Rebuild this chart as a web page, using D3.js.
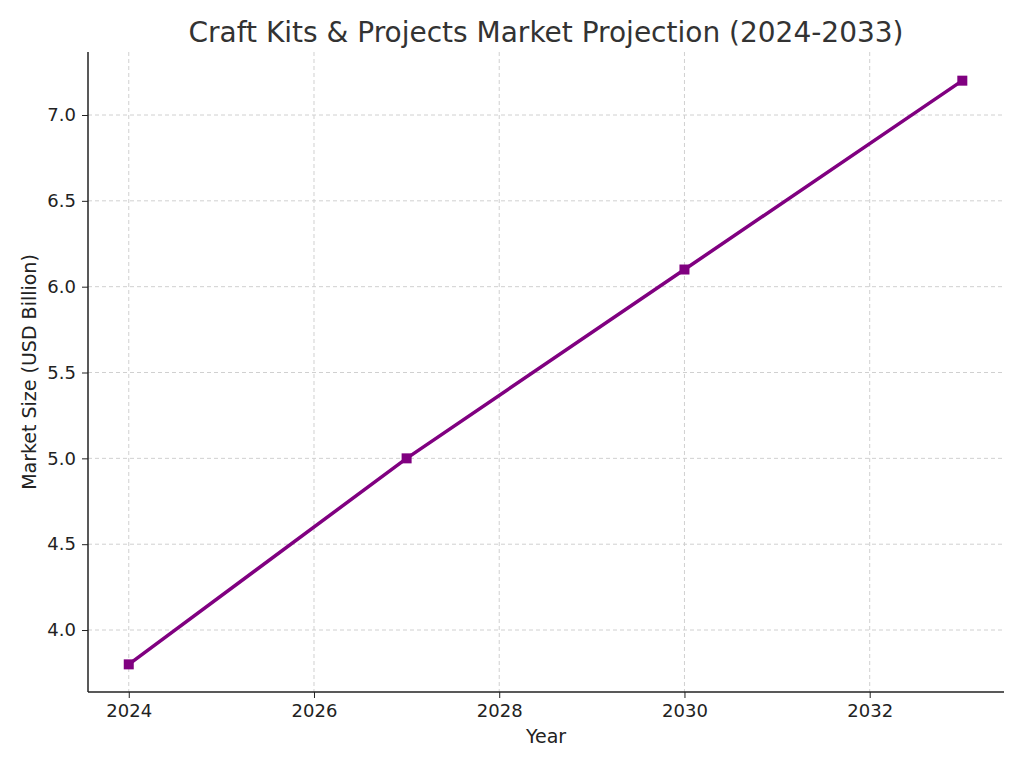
<!DOCTYPE html>
<html lang="en">
<head>
<meta charset="UTF-8">
<title>Craft Kits & Projects Market Projection</title>
<script src="https://d3js.org/d3.v7.min.js"></script>
<style>
  body { margin: 0; background: #fff; }
  text { font-family: "DejaVu Sans", sans-serif; }
</style>
</head>
<body>
<svg width="1024" height="768"></svg>
<script>
const years = [2024, 2027, 2030, 2033];
const marketSize = [3.8, 5.0, 6.1, 7.2];
const xTicks = [2024, 2026, 2028, 2030, 2032];
const yTicks = [4.0, 4.5, 5.0, 5.5, 6.0, 6.5, 7.0];

const svg = d3.select("svg");
const mLeft = 88, mRight = 1004, mTop = 52, mBottom = 692;

const x = d3.scaleLinear().domain([2023.56, 2033.45]).range([mLeft, mRight]);
const y = d3.scaleLinear().domain([3.639, 7.367]).range([mBottom, mTop]);

// grid
const grid = svg.append("g");
grid.selectAll(".gx").data(xTicks).enter().append("line")
  .attr("x1", d => x(d)).attr("x2", d => x(d))
  .attr("y1", mTop).attr("y2", mBottom)
  .attr("stroke", "#d0d0d0").attr("stroke-dasharray", "4,3");
grid.selectAll(".gy").data(yTicks).enter().append("line")
  .attr("y1", d => y(d)).attr("y2", d => y(d))
  .attr("x1", mLeft).attr("x2", mRight)
  .attr("stroke", "#d0d0d0").attr("stroke-dasharray", "4,3");

// axes
const xAxis = svg.append("g").attr("transform", `translate(0,${mBottom})`)
  .call(d3.axisBottom(x).tickValues(xTicks).tickFormat(d3.format("d")).tickSizeOuter(0).tickSize(6).tickPadding(6));
const yAxis = svg.append("g").attr("transform", `translate(${mLeft},0)`)
  .call(d3.axisLeft(y).tickValues(yTicks).tickFormat(d3.format(".1f")).tickSizeOuter(0).tickSize(6).tickPadding(6));
[xAxis, yAxis].forEach(a => {
  a.selectAll("text").style("font-size", "18px").attr("fill", "#222");
  a.selectAll("line,path").attr("stroke", "#222");
  a.select(".domain").attr("stroke-width", 1.5);
});
xAxis.select(".domain").attr("d", `M${mLeft},0H${mRight}`);
yAxis.select(".domain").attr("d", `M0,${mTop}V${mBottom}`);

// line
const pts = years.map((d, i) => [d, marketSize[i]]);
svg.append("path").datum(pts)
  .attr("fill", "none").attr("stroke", "#800080").attr("stroke-width", 3.5)
  .attr("d", d3.line().x(d => x(d[0])).y(d => y(d[1])));
svg.selectAll(".pt").data(pts).enter().append("rect")
  .attr("x", d => x(d[0]) - 5).attr("y", d => y(d[1]) - 5)
  .attr("width", 10).attr("height", 10).attr("fill", "#800080");

// labels
svg.append("text").attr("x", 546).attr("y", 42).attr("text-anchor", "middle")
  .style("font-size", "28px").attr("fill", "#333")
  .text("Craft Kits & Projects Market Projection (2024-2033)");
svg.append("text").attr("x", 546).attr("y", 743).attr("text-anchor", "middle")
  .style("font-size", "19px").attr("fill", "#222").text("Year");
svg.append("text").attr("transform", "translate(36,372) rotate(-90)").attr("text-anchor", "middle")
  .style("font-size", "19px").attr("fill", "#222").text("Market Size (USD Billion)");
</script>
</body>
</html>
